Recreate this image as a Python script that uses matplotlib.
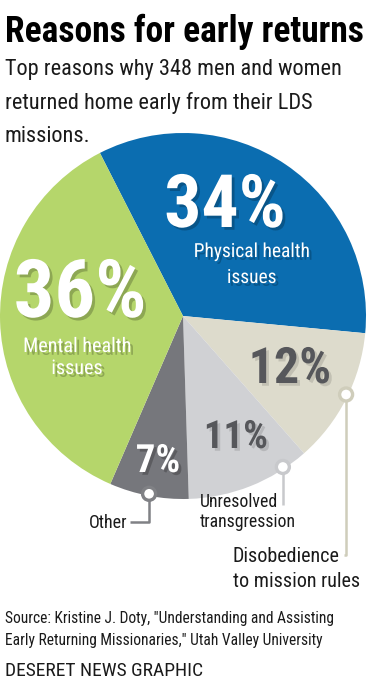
import numpy as np
import matplotlib
matplotlib.use("Agg")
import matplotlib.pyplot as plt
import matplotlib.patheffects as pe
from matplotlib import font_manager as fm

# data
reasons = ["Physical health issues", "Disobedience to mission rules",
           "Unresolved transgression", "Other", "Mental health issues"]
shares = [34, 12, 11, 7, 36]
colors = ["#0b6db0", "#dddbcc", "#d0d1d4", "#76777c", "#b5d66b"]
pct_colors = ["white", "#56575b", "#56575b", "white", "white"]

title = "Reasons for early returns"
subtitle = ["Top reasons why 348 men and women",
            "returned home early from their LDS",
            "missions."]
source = ['Source: Kristine J. Doty, "Understanding and Assisting',
          'Early Returning Missionaries," Utah Valley University']
credit = "DESERET NEWS GRAPHIC"


def pick(cands):
    for c in cands:
        try:
            fm.findfont(fm.FontProperties(family=c), fallback_to_default=False)
            return c
        except ValueError:
            pass
    return "DejaVu Sans"


COND = pick(["Roboto Condensed", "Liberation Sans Narrow", "Open Sans Condensed",
             "Liberation Sans", "DejaVu Sans"])
plt.rcParams["font.family"] = [COND, "DejaVu Sans"]

W, H = 370, 680
fig = plt.figure(figsize=(W / 100, H / 100), dpi=100)
ax = fig.add_axes([0, 0, 1, 1])


def Y(ytop):
    # picture coordinates measured from the top
    return H - ytop


cx, cy, R = 183, Y(316), 183
wedges, _ = ax.pie(shares, colors=colors, startangle=117, counterclock=False,
                   center=(cx, cy), radius=R, wedgeprops=dict(linewidth=0))
ax.set_xlim(0, W)
ax.set_ylim(0, H)
ax.set_aspect("equal")
ax.axis("off")

shadow_dark = [pe.withSimplePatchShadow(offset=(2, -2), shadow_rgbFace="k", alpha=0.22)]
shadow_light = [pe.withSimplePatchShadow(offset=(2, -2), shadow_rgbFace="k", alpha=0.12)]

# percentage labels (x, baseline, size)
pct_pos = [(225, 227, 53), (290, 383, 36), (236, 448, 28), (158, 472, 28), (80, 317, 58)]
for v, c, (x, yb, s) in zip(shares, pct_colors, pct_pos):
    ax.text(x, Y(yb), f"{v}%", color=c, fontsize=s, fontweight="bold",
            ha="center", va="baseline",
            path_effects=shadow_dark if c == "white" else shadow_light)

# in-slice names
ax.text(252, Y(257), "Physical health", color="white", fontsize=14, ha="center", va="baseline",
        path_effects=shadow_dark)
ax.text(252, Y(283), "issues", color="white", fontsize=14, ha="center", va="baseline",
        path_effects=shadow_dark)
ax.text(77, Y(352), "Mental health", color="white", fontsize=14.5, ha="center", va="baseline",
        path_effects=shadow_dark)
ax.text(77, Y(374), "issues", color="white", fontsize=14.5, ha="center", va="baseline",
        path_effects=shadow_dark)

# callouts: wedge index, fraction along wedge, line colour, elbow points
callouts = [
    (3, 0.5, "#808185", [(None, 522), (130, 522)]),
    (2, 0.8, "#c8c9cc", [(None, 505)]),
    (1, 0.53, "#cfcdbb", [(None, 555), (344, 555)]),
]
for i, frac, lc, pts in callouts:
    w = wedges[i]
    th = np.deg2rad(w.theta1 + frac * (w.theta2 - w.theta1))
    px, py = cx + (R - 2) * np.cos(th), cy + (R - 2) * np.sin(th)
    xs, ys = [px], [py]
    for qx, qy in pts:
        xs.append(px if qx is None else qx)
        ys.append(Y(qy))
    ax.plot(xs, ys, color=lc, lw=1.8, solid_capstyle="butt", zorder=3)
    ax.add_patch(plt.Circle((px, py), 6.5, facecolor="white", edgecolor=lc, lw=2.4, zorder=4))

ax.text(127, Y(528), "Other", fontsize=13, ha="right", va="baseline", color="#1a1a1a")
ax.text(200, Y(507), "Unresolved", fontsize=12.8, ha="left", va="baseline", color="#1a1a1a")
ax.text(200, Y(527), "transgression", fontsize=12.8, ha="left", va="baseline", color="#1a1a1a")
ax.text(233, Y(562), "Disobedience", fontsize=14.5, ha="left", va="baseline", color="#1a1a1a")
ax.text(233, Y(587), "to mission rules", fontsize=14.5, ha="left", va="baseline", color="#1a1a1a")

# header
ax.text(5, Y(42), title, fontsize=25.6, fontweight="bold", ha="left", va="baseline", color="black")
for k, line in enumerate(subtitle):
    ax.text(5, Y(75 + 33.5 * k), line, fontsize=16, ha="left", va="baseline", color="#1a1a1a")

# footer
for k, line in enumerate(source):
    ax.text(5, Y(623 + 22 * k), line, fontsize=11.2, ha="left", va="baseline", color="#1a1a1a")
ax.text(5, Y(676), credit, fontsize=14, ha="left", va="baseline", color="#1a1a1a")

fig.savefig("out.png", dpi=100)
